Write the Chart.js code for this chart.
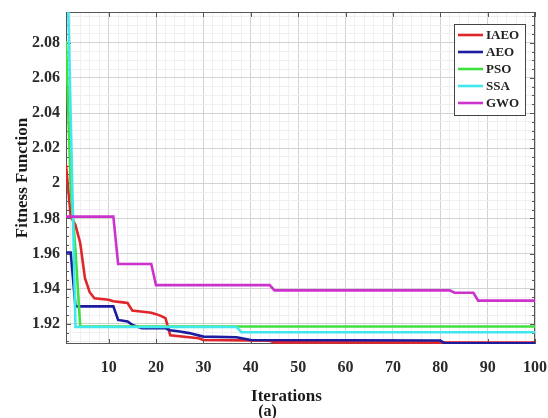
<!DOCTYPE html>
<html>
<head>
<meta charset="utf-8">
<style>
  html, body { margin: 0; padding: 0; background: #fff; }
</style>
</head>
<body>
<canvas id="fitChart" width="548" height="418"></canvas>

<script src="https://cdn.jsdelivr.net/npm/chart.js@4.4.0/dist/chart.umd.min.js"></script>
<script>
// convergence curves: iteration -> best fitness so far
var seriesNames = ['IAEO', 'AEO', 'PSO', 'SSA', 'GWO'];
var seriesColors = ['#e0262b', '#1c1ca0', '#3ee03e', '#40e8ee', '#cc33cc'];

var iaeoIter = [1, 2, 3, 4, 5, 6, 7, 10, 11, 13, 14, 15, 19, 20, 21, 22, 23, 29, 30, 44, 45, 100];
var iaeoFit  = [2.0105, 1.981, 1.9762, 1.966, 1.946, 1.938, 1.9345, 1.9337, 1.9328, 1.9322, 1.9318, 1.9275,
                1.9263, 1.9255, 1.9245, 1.9232, 1.9135, 1.9118, 1.9108, 1.9104, 1.9094, 1.9093];

var aeoIter = [1, 2, 3, 11, 12, 14, 15, 17, 22, 23, 25, 27, 30, 37, 40, 80, 81, 100];
var aeoFit  = [1.9606, 1.9606, 1.9299, 1.9299, 1.9222, 1.9213, 1.9194, 1.9175, 1.9175, 1.9163, 1.9156, 1.9147,
               1.9127, 1.9123, 1.9108, 1.9105, 1.9089, 1.9089];

var psoIter = [1, 2, 3, 4, 100];
var psoFit  = [2.081, 1.997, 1.962, 1.9185, 1.9185];

var ssaIter = [1, 2, 3, 37, 38, 100];
var ssaFit  = [2.158, 2.037, 1.9182, 1.9182, 1.9152, 1.9152];

var gwoIter = [1, 11, 12, 19, 20, 44, 45, 82, 83, 87, 88, 100];
var gwoFit  = [1.981, 1.981, 1.954, 1.954, 1.942, 1.942, 1.939, 1.939, 1.9377, 1.9377, 1.9332, 1.9332];

var xTicks = [10, 20, 30, 40, 50, 60, 70, 80, 90, 100];
var yTicks = [1.92, 1.94, 1.96, 1.98, 2.00, 2.02, 2.04, 2.06, 2.08];
var yTickLabels = ['1.92', '1.94', '1.96', '1.98', '2', '2.02', '2.04', '2.06', '2.08'];

var FONT = '"Liberation Serif", "Times New Roman", serif';

function toPoints(iters, vals) {
    return iters.map(function(it, i) { return { x: it, y: vals[i] }; });
}

function yLabelIndex(v) {
    for (var i = 0; i < yTicks.length; i++) {
        if (Math.abs(yTicks[i] - v) < 1e-6) return i;
    }
    return -1;
}

var curves = [
    toPoints(iaeoIter, iaeoFit),
    toPoints(aeoIter, aeoFit),
    toPoints(psoIter, psoFit),
    toPoints(ssaIter, ssaFit),
    toPoints(gwoIter, gwoFit)
];

var datasets = curves.map(function(pts, i) {
    return {
        label: seriesNames[i],
        data: pts,
        borderColor: seriesColors[i],
        backgroundColor: seriesColors[i],
        borderWidth: 2.6,
        pointRadius: 0,
        tension: 0,
        // later series sit on top, like the original plot
        order: seriesNames.length - 1 - i
    };
});

// axes box with inward tick marks
var framePlugin = {
    id: 'frame',
    beforeDatasetsDraw: function(chart) {
        var a = chart.chartArea, ctx = chart.ctx;
        var xs = chart.scales.x, ys = chart.scales.y;
        ctx.save();
        ctx.strokeStyle = '#555';
        ctx.lineWidth = 1;
        ctx.strokeRect(a.left + 0.5, a.top + 0.5, a.right - a.left - 1, a.bottom - a.top - 1);
        ctx.beginPath();
        xTicks.forEach(function(t) {
            var px = Math.round(xs.getPixelForValue(t)) + 0.5;
            ctx.moveTo(px, a.top); ctx.lineTo(px, a.top + 5);
            ctx.moveTo(px, a.bottom); ctx.lineTo(px, a.bottom - 5);
        });
        ys.ticks.forEach(function(t) {
            var py = Math.round(ys.getPixelForValue(t.value)) + 0.5;
            var len = yLabelIndex(t.value) >= 0 ? 5 : 3;
            ctx.moveTo(a.right, py); ctx.lineTo(a.right - len, py);
            ctx.moveTo(a.left, py); ctx.lineTo(a.left + len, py);
        });
        ctx.stroke();
        ctx.restore();
    }
};

// boxed legend in the upper right corner of the plot
var legendPlugin = {
    id: 'boxLegend',
    afterDatasetsDraw: function(chart) {
        var a = chart.chartArea, ctx = chart.ctx;
        var w = 71, h = 91;
        var x0 = a.right - 10 - w, y0 = a.top + 12;
        ctx.save();
        ctx.fillStyle = '#fff';
        ctx.fillRect(x0, y0, w, h);
        ctx.strokeStyle = '#444';
        ctx.lineWidth = 1;
        ctx.strokeRect(x0 + 0.5, y0 + 0.5, w, h);
        ctx.font = 'bold 13px ' + FONT;
        ctx.textBaseline = 'middle';
        ctx.textAlign = 'left';
        chart.data.datasets.forEach(function(ds, i) {
            var yy = y0 + 11 + i * 17;
            ctx.strokeStyle = ds.borderColor;
            ctx.lineWidth = 2.6;
            ctx.beginPath();
            ctx.moveTo(x0 + 4, yy);
            ctx.lineTo(x0 + 29, yy);
            ctx.stroke();
            ctx.fillStyle = '#222';
            ctx.fillText(ds.label, x0 + 32, yy + 1);
        });
        ctx.restore();
    }
};

// x title and panel tag under the axis
var captionPlugin = {
    id: 'caption',
    afterDraw: function(chart) {
        var a = chart.chartArea, ctx = chart.ctx;
        var cx = (a.left + a.right) / 2;
        ctx.save();
        ctx.fillStyle = '#1a1a1a';
        ctx.textAlign = 'center';
        ctx.textBaseline = 'middle';
        ctx.font = 'bold 17px ' + FONT;
        ctx.fillText('Iterations', cx - 14, a.bottom + 53);
        ctx.font = 'bold 16px ' + FONT;
        ctx.fillText('(a)', cx - 33, a.bottom + 68);
        ctx.restore();
    }
};

var chart = new Chart(document.getElementById('fitChart').getContext('2d'), {
    type: 'line',
    data: { datasets: datasets },
    options: {
        responsive: false,
        animation: false,
        devicePixelRatio: 1,
        layout: { padding: { left: 10, right: 13, top: 12, bottom: 0 } },
        plugins: {
            legend: { display: false },
            tooltip: { enabled: false }
        },
        scales: {
            x: {
                type: 'linear',
                min: 1,
                max: 100,
                afterBuildTicks: function(axis) {
                    var t = [];
                    for (var v = 2; v <= 100; v += 2) t.push({ value: v });
                    axis.ticks = t;
                },
                afterFit: function(s) {
                    s.height = 74;
                    s.paddingLeft = 0;
                    s.paddingRight = 0;
                },
                grid: {
                    drawTicks: false,
                    color: function(c) {
                        return c.tick && xTicks.indexOf(c.tick.value) >= 0 ? '#d2d2d2' : '#efefef';
                    }
                },
                border: { display: false },
                ticks: {
                    autoSkip: false,
                    maxRotation: 0,
                    padding: 14,
                    color: '#2a2a2a',
                    font: { family: FONT, size: 16, weight: 'bold' },
                    callback: function(v) { return xTicks.indexOf(v) >= 0 ? String(v) : ''; }
                }
            },
            y: {
                min: 1.9085,
                max: 2.0975,
                afterBuildTicks: function(axis) {
                    var t = [];
                    for (var k = 0; k <= 37; k++) t.push({ value: Math.round((1.91 + k * 0.005) * 1000) / 1000 });
                    axis.ticks = t;
                },
                afterFit: function(s) {
                    s.width = 56;
                    s.paddingTop = 0;
                    s.paddingBottom = 0;
                },
                grid: {
                    drawTicks: false,
                    color: function(c) {
                        return c.tick && yLabelIndex(c.tick.value) >= 0 ? '#d2d2d2' : '#efefef';
                    }
                },
                border: { display: false },
                ticks: {
                    autoSkip: false,
                    padding: 6,
                    color: '#2a2a2a',
                    font: { family: FONT, size: 16, weight: 'bold' },
                    callback: function(v) {
                        var i = yLabelIndex(v);
                        return i >= 0 ? yTickLabels[i] : '';
                    }
                },
                title: {
                    display: true,
                    text: 'Fitness Function',
                    color: '#1a1a1a',
                    font: { family: FONT, size: 17, weight: 'bold' },
                    padding: { top: 2, bottom: 0 }
                }
            }
        }
    },
    plugins: [framePlugin, legendPlugin, captionPlugin]
});
</script>
</body>
</html>
